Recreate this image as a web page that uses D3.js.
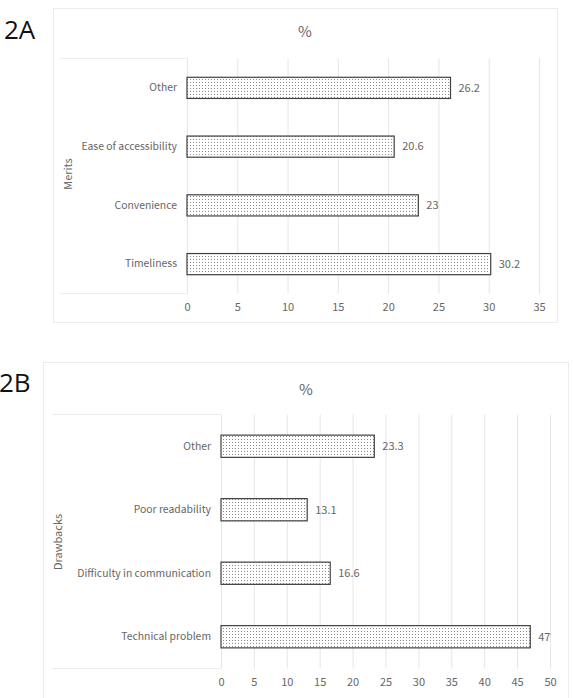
<!DOCTYPE html>
<html>
<head>
<meta charset="utf-8">
<script src="https://cdn.jsdelivr.net/npm/d3@7"></script>
<style>
  body { margin: 0; background: #fff; }
  svg { display: block; }
  svg text { font-family: "Noto Sans CJK KR", "Noto Sans", sans-serif; }
  .grid line { stroke: #e6e6e6; }
  .grid path { display: none; }
  .tick text { fill: #666; font-size: 11px; }
  .cat .tick text { font-size: 10.4px; }
</style>
</head>
<body>
<svg id="myGraph" width="573" height="698"></svg>
<script>
// 2A - merits
var meritCats = ["Other", "Ease of accessibility", "Convenience", "Timeliness"];
var meritVals = [26.2, 20.6, 23, 30.2];
var meritTicks = [0, 5, 10, 15, 20, 25, 30, 35];

// 2B - drawbacks
var drawCats = ["Other", "Poor readability", "Difficulty in communication", "Technical problem"];
var drawVals = [23.3, 13.1, 16.6, 47];
var drawTicks = [0, 5, 10, 15, 20, 25, 30, 35, 40, 45, 50];

var svg = d3.select("#myGraph");

/* dotted fill like the excel pattern */
var pat = svg.append("defs").append("pattern")
    .attr("id", "dots")
    .attr("patternUnits", "userSpaceOnUse")
    .attr("width", 3).attr("height", 3);
pat.append("rect").attr("width", 3).attr("height", 3).attr("fill", "#fff");
pat.append("rect").attr("x", 1).attr("y", 1).attr("width", 1).attr("height", 1).attr("fill", "#8a8a8a");

function panel(p) {
    var g = svg.append("g");

    // outer chart border
    g.append("rect")
        .attr("x", p.box[0]).attr("y", p.box[1])
        .attr("width", p.box[2]).attr("height", p.box[3])
        .attr("fill", "none").attr("stroke", "#ececec");

    // panel tag
    g.append("text")
        .attr("x", p.tag[0]).attr("y", p.tag[1])
        .style("font-family", "'Open Sans', sans-serif")
        .style("font-size", "26px")
        .attr("fill", "#111")
        .text(p.name);

    // title
    g.append("text")
        .attr("x", p.titleX).attr("y", p.titleY)
        .attr("text-anchor", "middle")
        .style("font-size", "15px")
        .attr("fill", "#666")
        .text("%");

    var x = d3.scaleLinear().domain([0, p.max]).range([p.x0, p.x1]);
    var y = d3.scaleBand().domain(p.cats).range([p.y0, p.y1])
        .paddingInner(p.pad).paddingOuter(p.pad / 2);

    // category label box lines
    g.append("line").attr("x1", p.labelLeft).attr("x2", p.x0)
        .attr("y1", p.y0).attr("y2", p.y0).attr("stroke", "#ececec");
    g.append("line").attr("x1", p.labelLeft).attr("x2", p.x0)
        .attr("y1", p.y1).attr("y2", p.y1).attr("stroke", "#ececec");

    // gridlines
    g.append("g")
        .attr("class", "grid")
        .attr("transform", "translate(0," + p.y1 + ")")
        .call(d3.axisBottom(x).tickValues(p.ticks).tickSize(-(p.y1 - p.y0)).tickFormat(""));

    // tick labels
    var ax = g.append("g")
        .attr("transform", "translate(0," + p.y1 + ")")
        .call(d3.axisBottom(x).tickValues(p.ticks).tickSize(0).tickPadding(10));
    ax.select(".domain").remove();

    // category labels
    var ay = g.append("g")
        .attr("class", "cat")
        .attr("transform", "translate(" + p.x0 + ",0)")
        .call(d3.axisLeft(y).tickSize(0).tickPadding(10));
    ay.select(".domain").remove();

    // group label
    g.append("text")
        .attr("transform", "translate(" + p.groupX + "," + p.groupY + ") rotate(-90)")
        .attr("text-anchor", "middle")
        .attr("dy", "0.35em")
        .style("font-size", "11px")
        .attr("fill", "#666")
        .text(p.group);

    var data = p.cats.map(function(c, i) { return {c: c, v: p.vals[i]}; });

    g.selectAll(".bar")
        .data(data)
        .enter().append("rect")
            .attr("class", "bar")
            .attr("x", x(0))
            .attr("y", function(d) { return y(d.c); })
            .attr("width", function(d) { return x(d.v) - x(0); })
            .attr("height", y.bandwidth())
            .attr("fill", "url(#dots)")
            .attr("stroke", "#404040")
            .attr("stroke-width", 1.2);

    g.selectAll(".val")
        .data(data)
        .enter().append("text")
            .attr("class", "val")
            .attr("x", function(d) { return x(d.v) + 8; })
            .attr("y", function(d) { return y(d.c) + y.bandwidth() / 2; })
            .attr("dy", "0.35em")
            .style("font-size", "11px")
            .attr("fill", "#666")
            .text(function(d) { return d.v; });
}

panel({
    name: "2A", tag: [4, 39], box: [53.5, 8.5, 504, 314],
    titleX: 305, titleY: 37,
    cats: meritCats, vals: meritVals, ticks: meritTicks, max: 35,
    x0: 187, x1: 539, y0: 58.5, y1: 293.5, pad: 0.64, labelLeft: 60,
    group: "Merits", groupX: 68, groupY: 174
});

panel({
    name: "2B", tag: [-1, 392], box: [43.5, 362.5, 525, 340],
    titleX: 306, titleY: 395,
    cats: drawCats, vals: drawVals, ticks: drawTicks, max: 50,
    x0: 221, x1: 550, y0: 414.5, y1: 668.5, pad: 0.65, labelLeft: 52,
    group: "Drawbacks", groupX: 58, groupY: 542
});
</script>
</body>
</html>
